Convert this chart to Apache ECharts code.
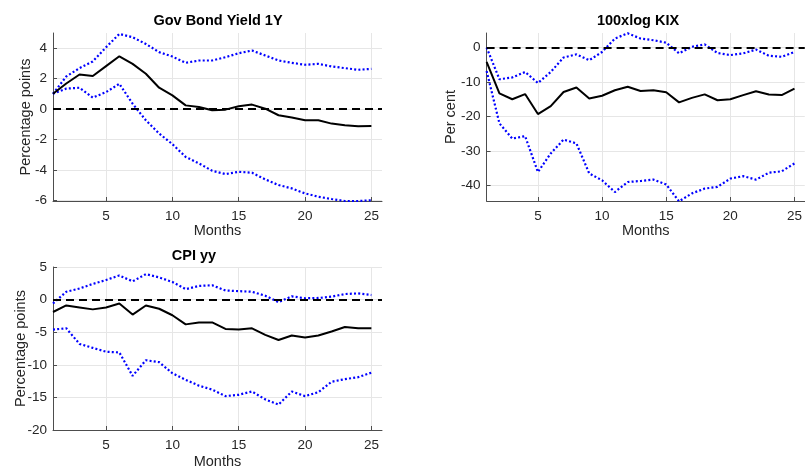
<!DOCTYPE html>
<html>
<head>
<meta charset="utf-8">
<script src="https://cdn.jsdelivr.net/npm/echarts@6/dist/echarts.min.js"></script>
<style>
  html, body { margin: 0; padding: 0; background: #fff; }
  #chart { width: 805px; height: 470px; }
</style>
</head>
<body>
<div id="chart"></div>
<script>
// Horizon in months
const months = [1,2,3,4,5,6,7,8,9,10,11,12,13,14,15,16,17,18,19,20,21,22,23,24,25];
const monthTicks = [5, 10, 15, 20, 25];

// Gov Bond Yield 1Y (percentage points)
const bondMedian = [1.0,1.68,2.27,2.17,2.82,3.47,2.97,2.32,1.4,0.9,0.24,0.13,-0.08,-0.04,0.18,0.29,0.02,-0.41,-0.56,-0.74,-0.74,-0.96,-1.07,-1.13,-1.11];
const bondUpper  = [1.0,2.14,2.69,3.13,4.06,4.94,4.72,4.28,3.74,3.45,3.04,3.19,3.19,3.41,3.67,3.85,3.52,3.19,3.04,2.91,2.97,2.8,2.69,2.58,2.64];
const bondLower  = [1.0,1.34,1.4,0.75,1.11,1.66,0.35,-0.74,-1.61,-2.31,-3.15,-3.58,-4.06,-4.28,-4.13,-4.19,-4.63,-5.0,-5.22,-5.55,-5.77,-5.92,-6.05,-6.05,-6.0];
const bondTicks  = [-6, -4, -2, 0, 2, 4];

// 100xlog KIX (per cent)
const kixMedian = [-4.2,-13.3,-15.0,-13.5,-19.3,-17.0,-12.9,-11.6,-14.8,-14.0,-12.4,-11.4,-12.6,-12.4,-13.0,-15.9,-14.6,-13.6,-15.3,-15.0,-13.8,-12.7,-13.6,-13.8,-11.9];
const kixUpper  = [0.0,-9.2,-8.7,-7.1,-10.3,-7.1,-2.9,-2.0,-3.7,-1.3,2.6,4.1,2.6,2.1,1.4,-1.7,0.2,0.9,-1.6,-2.2,-1.7,-0.6,-2.4,-2.7,-1.3];
const kixLower  = [-6.8,-22.0,-26.4,-25.7,-36.1,-30.7,-26.7,-27.8,-36.5,-38.5,-41.9,-39.0,-38.7,-38.3,-39.7,-44.6,-42.3,-40.9,-40.4,-38.0,-37.3,-38.3,-36.3,-35.9,-33.6];
const kixTicks  = [-40, -30, -20, -10, 0];

// CPI yy (percentage points)
const cpiMedian = [-1.9,-0.9,-1.2,-1.5,-1.2,-0.6,-2.3,-0.9,-1.4,-2.4,-3.8,-3.5,-3.5,-4.5,-4.6,-4.4,-5.4,-6.2,-5.5,-5.8,-5.5,-4.9,-4.2,-4.4,-4.4];
const cpiUpper  = [-0.6,1.2,1.7,2.4,3.0,3.7,2.8,3.9,3.4,2.7,1.6,2.1,2.2,1.4,1.3,1.2,0.6,-0.4,0.5,0.2,0.25,0.45,0.85,0.95,0.7];
const cpiLower  = [-4.6,-4.4,-6.8,-7.4,-8.0,-8.1,-11.7,-9.3,-9.6,-11.3,-12.3,-13.2,-13.8,-14.8,-14.6,-14.1,-15.3,-16.1,-14.1,-14.8,-14.2,-12.6,-12.2,-11.9,-11.2];
const cpiTicks  = [-20, -15, -10, -5, 0, 5];

const FONT = 'Liberation Sans, Arial, Helvetica, sans-serif';
const AXIS_COLOR = '#4d4d4d';
const TEXT_COLOR = '#262626';
const GRID_COLOR = '#e6e6e6';

const pair = (ys) => months.map((m, i) => [m, ys[i]]);

function xAxisFor(gridIndex, gap) {
  return {
    type: 'value', gridIndex, min: 1, max: 25.8,
    name: 'Months', nameLocation: 'middle', nameGap: gap, nameMoveOverlap: false,
    nameTextStyle: { fontFamily: FONT, fontSize: 14.5, color: TEXT_COLOR },
    axisLine: { show: true, onZero: false, lineStyle: { color: AXIS_COLOR, width: 1 } },
    axisTick: { show: true, inside: true, length: 4, customValues: monthTicks, lineStyle: { color: AXIS_COLOR } },
    axisLabel: { customValues: monthTicks, margin: 8, fontFamily: FONT, fontSize: 13.5, color: TEXT_COLOR },
    splitLine: { show: true, lineStyle: { color: GRID_COLOR, width: 1 } }
  };
}

function yAxisFor(gridIndex, min, max, ticks, name, gap) {
  return {
    type: 'value', gridIndex, min, max,
    name, nameLocation: 'middle', nameGap: gap, nameRotate: 90, nameMoveOverlap: false,
    nameTextStyle: { fontFamily: FONT, fontSize: 14.5, color: TEXT_COLOR },
    axisLine: { show: true, onZero: false, lineStyle: { color: AXIS_COLOR, width: 1 } },
    axisTick: { show: true, inside: true, length: 4, customValues: ticks, lineStyle: { color: AXIS_COLOR } },
    axisLabel: { customValues: ticks, margin: 6, fontFamily: FONT, fontSize: 13.5, color: TEXT_COLOR },
    splitLine: { show: true, lineStyle: { color: GRID_COLOR, width: 1 } }
  };
}

function bandSeries(idx, ys) {
  return {
    type: 'line', xAxisIndex: idx, yAxisIndex: idx, data: pair(ys),
    showSymbol: false, symbol: 'none', silent: true,
    lineStyle: { color: '#0000ff', width: 2.2, type: [2, 2.2] }
  };
}

function medianSeries(idx, ys) {
  return {
    type: 'line', xAxisIndex: idx, yAxisIndex: idx, data: pair(ys),
    showSymbol: false, symbol: 'none', silent: true, z: 3,
    lineStyle: { color: '#000000', width: 2 },
    markLine: {
      silent: true, symbol: 'none', label: { show: false },
      lineStyle: { color: '#000000', width: 2, type: [8, 5] },
      data: [{ yAxis: 0 }]
    }
  };
}

const titleStyle = { fontFamily: FONT, fontSize: 14.5, fontWeight: 'bold', color: '#000' };

const chart = echarts.init(document.getElementById('chart'), null, { renderer: 'canvas' });
chart.setOption({
  animation: false,
  backgroundColor: '#ffffff',
  title: [
    { text: 'Gov Bond Yield 1Y', left: 218, top: 13, textAlign: 'center', padding: 0, textStyle: titleStyle },
    { text: '100xlog KIX', left: 638, top: 13, textAlign: 'center', padding: 0, textStyle: titleStyle },
    { text: 'CPI yy', left: 194, top: 248, textAlign: 'center', padding: 0, textStyle: titleStyle }
  ],
  grid: [
    { left: 53, top: 33, width: 329, height: 168 },
    { left: 486.6, top: 33, width: 325, height: 168 },
    { left: 53, top: 267, width: 329, height: 168 }
  ],
  xAxis: [xAxisFor(0, 22), xAxisFor(1, 22), xAxisFor(2, 24)],
  yAxis: [
    yAxisFor(0, -6.05, 5, bondTicks, 'Percentage points', 20),
    yAxisFor(1, -44.5, 4.2, kixTicks, 'Per cent', 28),
    yAxisFor(2, -20, 5, cpiTicks, 'Percentage points', 25)
  ],
  series: [
    bandSeries(0, bondUpper), bandSeries(0, bondLower), medianSeries(0, bondMedian),
    bandSeries(1, kixUpper), bandSeries(1, kixLower), medianSeries(1, kixMedian),
    bandSeries(2, cpiUpper), bandSeries(2, cpiLower), medianSeries(2, cpiMedian)
  ]
});
</script>
</body>
</html>
